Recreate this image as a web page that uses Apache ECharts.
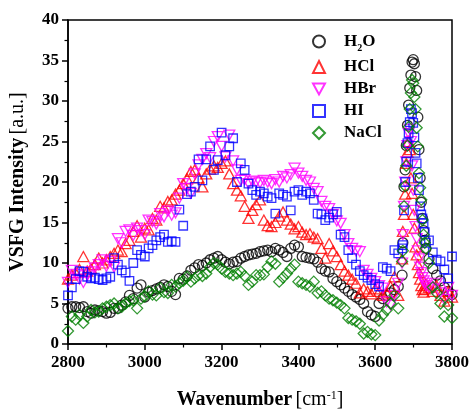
<!DOCTYPE html>
<html>
<head>
<meta charset="utf-8">
<script src="https://cdn.jsdelivr.net/npm/echarts@6/dist/echarts.min.js"></script>
<style>
  html, body { margin: 0; padding: 0; background: #ffffff; }
  #chart { width: 471px; height: 410px; }
</style>
</head>
<body>
<div id="chart"></div>
<script>
// Wavenumber sampling (cm^-1): broad OH region, free-OH peak, high-frequency tail
const wavenumber = [
  2800, 2810, 2820, 2830, 2840, 2850, 2860, 2870, 2880, 2890,
  2900, 2910, 2920, 2930, 2940, 2950, 2960, 2970, 2980, 2990,
  3000, 3010, 3020, 3030, 3040, 3050, 3060, 3070, 3080, 3090,
  3100, 3110, 3120, 3130, 3140, 3150, 3160, 3170, 3180, 3190,
  3200, 3210, 3220, 3230, 3240, 3250, 3260, 3270, 3280, 3290,
  3300, 3310, 3320, 3330, 3340, 3350, 3360, 3370, 3380, 3390,
  3400, 3410, 3420, 3430, 3440, 3450, 3460, 3470, 3480, 3490,
  3500, 3510, 3520, 3530, 3540, 3550, 3560, 3570, 3580, 3590,
  3600, 3610, 3620, 3630, 3640, 3650, 3660, 3670,
  3672, 3675, 3678, 3681, 3684, 3687, 3690, 3693, 3696, 3699,
  3702, 3705, 3708, 3711, 3714, 3717, 3720, 3723, 3726, 3729, 3732,
  3740, 3750, 3760, 3770, 3780, 3790, 3800
];

// VSFG intensity (a.u.) for each interface
const h2o = [
  4.4, 4.6, 4.6, 4.5, 4.6, 4.0, 3.8, 4.2, 4.1, 4.0,
  3.8, 3.9, 4.4, 4.4, 4.8, 5.2, 6.0, 5.6, 6.9, 7.3,
  5.8, 6.4, 6.6, 6.8, 7.0, 7.3, 7.1, 6.5, 6.1, 8.1,
  8.0, 8.4, 9.1, 9.4, 9.8, 9.7, 10.0, 10.4, 10.6, 10.8,
  10.4, 10.1, 9.9, 10.1, 10.2, 10.6, 10.8, 11.0, 11.1, 11.2,
  11.4, 11.5, 11.6, 11.4, 11.8, 11.6, 11.3, 10.8, 11.8, 12.2,
  12.0, 10.8, 10.7, 10.6, 10.5, 10.1, 9.3, 9.0, 8.9, 8.1,
  7.7, 7.3, 6.9, 6.5, 6.1, 5.8, 5.5, 5.0, 4.0, 3.6,
  3.4, 5.0, 5.6, 6.0, 6.3, 6.7, 7.1, 8.5,
  12.5, 19.4, 21.5, 24.5, 27.0, 29.5, 31.6, 33.2, 34.8, 35.1,
  34.6, 33.0, 31.3, 28.0, 24.0, 20.5, 17.5, 15.5, 14.0, 12.8, 11.8,
  10.5, 9.3, 8.5, 7.8, 7.0, 6.5, 6.1
];
const hcl = [
  8.0, 8.5, 8.8, 9.2, 10.8, 9.0, 9.3, 9.8, 10.6, 10.0,
  10.4, 10.8, 11.2, 11.6, 11.4, 12.4, 12.8, 13.9, 14.6, 13.2,
  14.3, 14.1, 15.5, 15.3, 17.0, 16.8, 17.6, 17.8, 18.5, 19.0,
  19.8, 20.4, 21.3, 21.5, 20.5, 19.4, 21.0, 21.6, 22.0, 21.8,
  22.3, 22.6, 21.0, 19.8, 19.0, 18.3, 17.0, 15.5, 16.5, 17.2,
  17.8, 15.3, 14.6, 14.5, 15.0, 15.8, 16.3, 15.3, 14.8, 14.2,
  14.5, 13.8, 13.5, 13.6, 13.2, 13.0, 11.8, 10.6, 12.4, 11.5,
  10.8, 9.8, 9.0, 8.5, 8.0, 7.5, 6.3, 6.8, 6.5, 6.2,
  6.8, 6.5, 6.0, 6.3, 7.1, 8.3, 6.0, 10.5,
  13.9, 16.0, 18.5, 22.3, 23.7, 25.0, 24.0, 20.5, 18.6, 16.0,
  14.3, 12.0, 11.0, 9.8, 8.8, 8.0, 7.2, 6.7, 6.4, 6.8, 7.4,
  7.0, 6.5, 7.2, 6.0, 5.3, 6.5, 5.8
];
const hbr = [
  7.6, 9.1, 8.6, 8.0, 7.6, 8.5, 8.9, 9.4, 9.8, 10.4,
  9.6, 10.2, 9.5, 13.0, 12.5, 13.9, 14.1, 13.4, 14.3, 14.0,
  13.5, 15.3, 15.1, 14.8, 16.1, 15.7, 16.4, 15.9, 16.2, 18.0,
  19.8, 19.2, 18.6, 21.0, 22.1, 22.8, 23.5, 23.0, 25.0, 25.6,
  24.4, 23.1, 25.8, 22.6, 21.5, 20.2, 20.3, 19.8, 20.1, 20.0,
  19.9, 20.2, 20.0, 19.8, 20.3, 20.0, 20.7, 20.5, 20.9, 21.7,
  21.1, 20.7, 20.2, 20.0, 19.2, 18.8, 17.6, 17.0, 16.7, 16.0,
  15.2, 14.9, 13.5, 12.4, 11.8, 11.5, 11.4, 9.1, 8.6, 8.1,
  7.7, 7.2, 6.9, 5.2, 4.8, 6.0, 7.5, 10.0,
  13.5, 17.0, 20.0, 22.5, 24.5, 26.0, 26.5, 25.0, 22.0, 19.0,
  16.5, 14.5, 13.0, 11.5, 10.5, 9.5, 8.8, 8.2, 7.8, 7.5, 7.2,
  7.0, 6.8, 7.5, 6.3, 5.5, 7.0, 6.0
];
const hi = [
  6.0, 7.0, 8.0, 9.0, 8.9, 8.3, 8.1, 8.2, 8.0, 7.9,
  8.1, 8.3, 10.6, 9.8, 9.1, 8.8, 7.8, 10.0, 11.6, 11.0,
  10.8, 11.8, 12.2, 12.8, 13.2, 13.5, 12.6, 12.7, 12.6, 16.6,
  14.6, 18.5, 18.8, 19.4, 22.8, 20.2, 22.8, 24.4, 21.5, 22.7,
  26.1, 23.3, 24.4, 25.4, 20.0, 22.3, 21.5, 19.8, 19.0, 18.4,
  18.8, 18.6, 18.2, 18.0, 16.1, 18.6, 18.4, 18.2, 16.5, 18.8,
  19.0, 18.4, 18.8, 18.6, 17.8, 16.1, 16.0, 15.3, 15.6, 16.0,
  16.3, 13.5, 13.2, 11.6, 10.6, 9.8, 9.0, 8.5, 8.2, 7.9,
  7.4, 7.1, 9.5, 9.3, 9.0, 11.6, 11.2, 11.8,
  12.2, 16.5, 20.0, 22.5, 24.8, 26.0, 27.4, 29.0, 28.5, 27.3,
  25.5, 23.6, 22.3, 20.5, 19.0, 17.0, 16.0, 15.5, 14.9, 13.8, 12.5,
  12.8, 11.3, 10.4, 10.2, 9.2, 8.1, 10.8
];
const nacl = [
  1.6, 3.4, 3.0, 3.6, 2.6, 3.4, 4.2, 3.9, 4.0, 4.4,
  4.6, 4.8, 5.0, 4.4, 4.6, 5.0, 5.3, 5.4, 4.4, 5.6,
  5.9, 6.5, 6.1, 6.0, 6.9, 6.4, 6.3, 7.3, 7.1, 7.5,
  7.8, 8.3, 7.7, 8.1, 8.5, 8.4, 8.7, 9.5, 10.0, 9.8,
  9.3, 8.9, 8.7, 8.5, 8.7, 8.9, 8.4, 7.3, 7.7, 8.5,
  8.5, 8.6, 9.5, 10.2, 9.9, 7.7, 8.2, 8.7, 9.3, 9.8,
  7.7, 7.5, 7.3, 7.1, 7.7, 6.3, 6.5, 6.0, 5.6, 5.4,
  5.1, 4.8, 4.4, 3.2, 3.0, 2.8, 2.5, 1.3, 1.5, 1.2,
  1.1, 2.9, 3.6, 4.2, 5.0, 6.0, 4.4, 10.2,
  11.5, 17.0, 19.5, 22.0, 24.5, 26.8, 29.0, 31.0, 32.6, 32.2,
  30.5, 29.0, 26.7, 24.4, 21.1, 19.3, 17.8, 15.3, 13.5, 12.5, 11.8,
  10.0, 7.0, 6.3, 5.0, 3.4, 4.8, 3.2
];

const FONT = '"Liberation Serif", "Times New Roman", serif';

const seriesDefs = [
  { name: 'H2O',  values: h2o,  color: '#000000', symbol: 'circle',   size: 10 },
  { name: 'HCl',  values: hcl,  color: '#ff0000', symbol: 'triangle', size: [11, 10] },
  { name: 'HBr',  values: hbr,  color: '#ff00ff', symbol: 'path://M0,0L10,0L5,9Z', size: [11, 10] },
  { name: 'HI',   values: hi,   color: '#0000ff', symbol: 'rect',     size: 8.5 },
  { name: 'NaCl', values: nacl, color: '#008000', symbol: 'diamond',  size: 11 }
];

const plainNumber = v => String(v);

const chart = echarts.init(document.getElementById('chart'), null, { renderer: 'canvas' });

chart.setOption({
  animation: false,
  backgroundColor: '#ffffff',
  grid: {
    left: 68, right: 19, top: 20, bottom: 66,
    outerBoundsMode: 'none',
    show: true, borderColor: '#000000', borderWidth: 1.5, backgroundColor: 'transparent'
  },
  legend: {
    orient: 'vertical',
    left: 307, top: 28,
    itemWidth: 12, itemHeight: 12, itemGap: 5,
    data: ['H2O', 'HCl', 'HBr', 'HI', 'NaCl'],
    formatter: name => name === 'H2O' ? '{t|H}{s|2}{t|O}' : '{t|' + name + '}',
    textStyle: {
      color: '#000000', fontFamily: FONT, fontWeight: 'bold', fontSize: 17,
      padding: [0, 0, 0, 14],
      rich: {
        t: { fontFamily: FONT, fontWeight: 'bold', fontSize: 17, lineHeight: 17, color: '#000000' },
        s: { fontFamily: FONT, fontWeight: 'bold', fontSize: 10, lineHeight: 24, verticalAlign: 'bottom', color: '#000000' }
      }
    }
  },
  xAxis: {
    type: 'value', min: 2800, max: 3800, interval: 200,
    name: '{b|Wavenumber} {r|[cm}{p|-1}{r|]}',
    nameLocation: 'middle', nameGap: 46,
    nameTextStyle: {
      color: '#000000',
      rich: {
        b: { fontFamily: FONT, fontWeight: 'bold', fontSize: 20, color: '#000000' },
        r: { fontFamily: FONT, fontSize: 20, color: '#000000' },
        p: { fontFamily: FONT, fontSize: 12, verticalAlign: 'top', color: '#000000' }
      }
    },
    axisLine: { show: true, lineStyle: { color: '#000000', width: 1.5 } },
    axisTick: { show: true, length: 6, lineStyle: { color: '#000000', width: 1.5 } },
    minorTick: { show: true, splitNumber: 2, length: 3.5, lineStyle: { color: '#000000', width: 1.2 } },
    splitLine: { show: false },
    axisLabel: { color: '#000000', fontFamily: FONT, fontWeight: 'bold', fontSize: 17, margin: 10, formatter: plainNumber }
  },
  yAxis: {
    type: 'value', min: 0, max: 40, interval: 5,
    name: '{b|VSFG Intensity} {r|[a.u.]}',
    nameLocation: 'middle', nameGap: 40,
    nameTextStyle: {
      color: '#000000',
      rich: {
        b: { fontFamily: FONT, fontWeight: 'bold', fontSize: 20, color: '#000000' },
        r: { fontFamily: FONT, fontSize: 20, color: '#000000' }
      }
    },
    axisLine: { show: true, lineStyle: { color: '#000000', width: 1.5 } },
    axisTick: { show: true, length: 6, lineStyle: { color: '#000000', width: 1.5 } },
    minorTick: { show: true, splitNumber: 2, length: 3.5, lineStyle: { color: '#000000', width: 1.2 } },
    splitLine: { show: false },
    axisLabel: { color: '#000000', fontFamily: FONT, fontWeight: 'bold', fontSize: 17, margin: 9, formatter: plainNumber }
  },
  series: seriesDefs.map(d => ({
    name: d.name,
    type: 'scatter',
    data: wavenumber.map((x, i) => [x, d.values[i]]),
    symbol: d.symbol,
    symbolSize: d.size,
    clip: false,
    itemStyle: { color: 'transparent', borderColor: d.color, borderWidth: 1.3 },
    emphasis: { disabled: true }
  }))
});
</script>
</body>
</html>
